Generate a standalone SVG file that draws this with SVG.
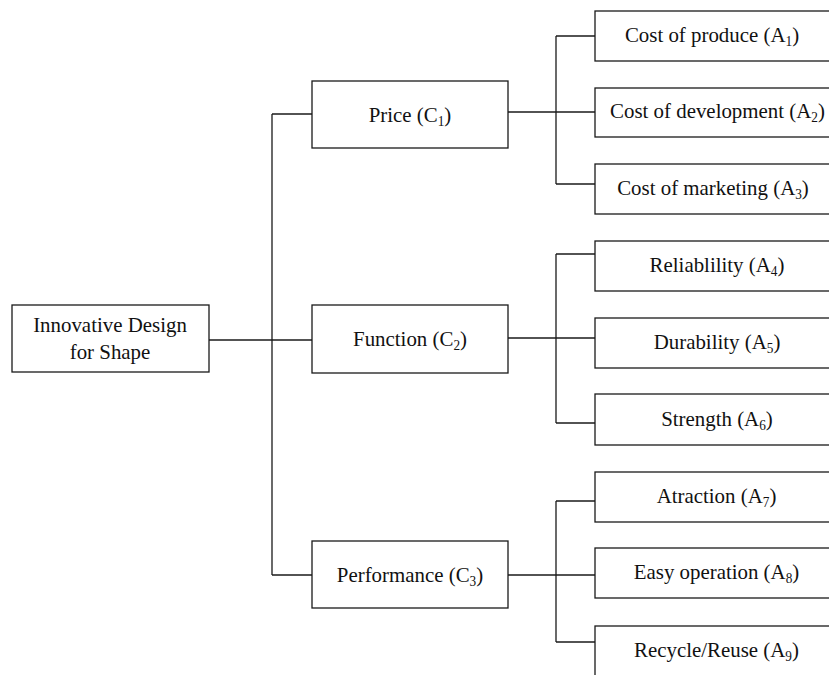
<svg xmlns="http://www.w3.org/2000/svg" width="829" height="675" viewBox="0 0 829 675">
<style>
.box{fill:#fff;stroke:#1a1a1a;stroke-width:1.3}
.t{font-family:"Liberation Serif","Times New Roman",serif;font-size:22px;fill:#111;text-anchor:middle}
.s{font-size:14px}
#connectors line{stroke:#1a1a1a;stroke-width:1.3;fill:none}
</style>
<rect width="829" height="675" fill="#fff"/>
<g id="connectors">
<line x1="209" y1="340" x2="312" y2="340"/>
<line x1="272" y1="114" x2="272" y2="575"/>
<line x1="272" y1="114" x2="312" y2="114"/>
<line x1="272" y1="575" x2="312" y2="575"/>
<line x1="508" y1="112" x2="595" y2="112"/>
<line x1="556" y1="36" x2="556" y2="184"/>
<line x1="556" y1="36" x2="595" y2="36"/>
<line x1="556" y1="184" x2="595" y2="184"/>
<line x1="508" y1="338" x2="595" y2="338"/>
<line x1="556" y1="254" x2="556" y2="423"/>
<line x1="556" y1="254" x2="595" y2="254"/>
<line x1="556" y1="423" x2="595" y2="423"/>
<line x1="508" y1="575" x2="595" y2="575"/>
<line x1="556" y1="501" x2="556" y2="642"/>
<line x1="556" y1="501" x2="595" y2="501"/>
<line x1="556" y1="642" x2="595" y2="642"/>
</g>
<g id="root">
<rect class="box" x="12" y="305" width="197" height="67"/>
<text class="t" transform="translate(110,331.5) scale(0.95,1)">Innovative Design</text>
<text class="t" transform="translate(110,358.5) scale(0.95,1)">for Shape</text>
</g>
<g id="c1">
<rect class="box" x="312" y="81" width="196" height="67"/>
<text class="t" transform="translate(410,121.5) scale(0.95,1)">Price (C<tspan class="s" dy="4">1</tspan><tspan dy="-4">)</tspan></text>
</g>
<g id="c2">
<rect class="box" x="312" y="305" width="196" height="68"/>
<text class="t" transform="translate(410,346) scale(0.95,1)">Function (C<tspan class="s" dy="4">2</tspan><tspan dy="-4">)</tspan></text>
</g>
<g id="c3">
<rect class="box" x="312" y="541" width="196" height="67"/>
<text class="t" transform="translate(410,582) scale(0.95,1)">Performance (C<tspan class="s" dy="4">3</tspan><tspan dy="-4">)</tspan></text>
</g>
<g id="a1">
<rect class="box" x="595" y="11" width="250" height="50"/>
<text class="t" transform="translate(712,42) scale(0.95,1)">Cost of produce (A<tspan class="s" dy="4">1</tspan><tspan dy="-4">)</tspan></text>
</g>
<g id="a2">
<rect class="box" x="595" y="88" width="250" height="49"/>
<text class="t" transform="translate(717.5,118) scale(0.95,1)">Cost of development (A<tspan class="s" dy="4">2</tspan><tspan dy="-4">)</tspan></text>
</g>
<g id="a3">
<rect class="box" x="595" y="164" width="250" height="50"/>
<text class="t" transform="translate(713,195) scale(0.95,1)">Cost of marketing (A<tspan class="s" dy="4">3</tspan><tspan dy="-4">)</tspan></text>
</g>
<g id="a4">
<rect class="box" x="595" y="241" width="250" height="50"/>
<text class="t" transform="translate(717,272) scale(0.95,1)">Reliablility (A<tspan class="s" dy="4">4</tspan><tspan dy="-4">)</tspan></text>
</g>
<g id="a5">
<rect class="box" x="595" y="318" width="250" height="50"/>
<text class="t" transform="translate(717,349) scale(0.95,1)">Durability (A<tspan class="s" dy="4">5</tspan><tspan dy="-4">)</tspan></text>
</g>
<g id="a6">
<rect class="box" x="595" y="394" width="250" height="51"/>
<text class="t" transform="translate(717,425.5) scale(0.95,1)">Strength (A<tspan class="s" dy="4">6</tspan><tspan dy="-4">)</tspan></text>
</g>
<g id="a7">
<rect class="box" x="595" y="472" width="250" height="50"/>
<text class="t" transform="translate(716.5,503) scale(0.95,1)">Atraction (A<tspan class="s" dy="4">7</tspan><tspan dy="-4">)</tspan></text>
</g>
<g id="a8">
<rect class="box" x="595" y="548" width="250" height="50"/>
<text class="t" transform="translate(716.5,579) scale(0.95,1)">Easy operation (A<tspan class="s" dy="4">8</tspan><tspan dy="-4">)</tspan></text>
</g>
<g id="a9">
<rect class="box" x="595" y="626" width="250" height="60"/>
<text class="t" transform="translate(716.5,657) scale(0.95,1)">Recycle/Reuse (A<tspan class="s" dy="4">9</tspan><tspan dy="-4">)</tspan></text>
</g>
</svg>
